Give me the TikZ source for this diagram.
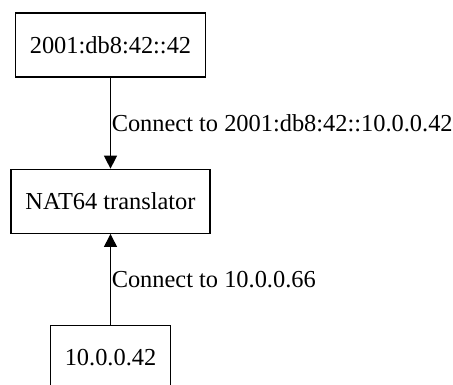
\documentclass[tikz,border=0pt]{standalone}
\usepackage{fontspec}
\setmainfont{Liberation Serif}
\usepackage{tikz}
\usetikzlibrary{
    arrows.meta,
    positioning
}

\begin{document}
\begin{tikzpicture}[
    hostbox/.style={
        draw=black,
        line width=1.3pt,
        fill=white,
        align=center,
        minimum height=64pt,
        inner xsep=14.5pt,
        font=\fontsize{24.4}{28}\selectfont
    },
    edgelabel/.style={
        midway,
        anchor=west,
        inner sep=0.6pt,
        font=\fontsize{24.4}{28}\selectfont
    },
    flowarrow/.style={
        -{Triangle[length=13pt,width=13pt]},
        line width=1.3pt,
        draw=black
    }
]

\useasboundingbox (0,0) rectangle (453pt,-385pt);

\node[hostbox] (v6host) at (110.5pt,-45pt) {2001:db8:42::42};

\node[
    hostbox,
    below=91pt of v6host
] (nat) {NAT64 translator};

\node[
    hostbox,
    below=91pt of nat
] (v4host) {10.0.0.42};

\draw[flowarrow] (v6host) -- (nat)
    node[edgelabel] {Connect to 2001:db8:42::10.0.0.42};
\draw[flowarrow] (v4host) -- (nat)
    node[edgelabel] {Connect to 10.0.0.66};

\end{tikzpicture}
\end{document}
